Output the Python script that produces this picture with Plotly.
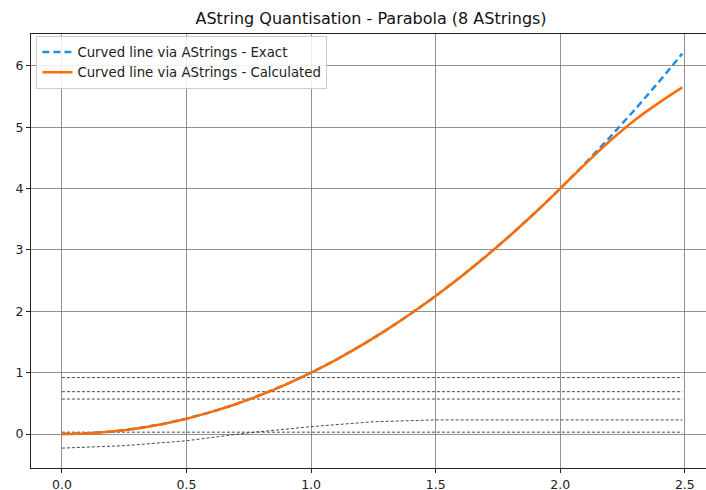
import plotly.graph_objects as go

# ---- data ----
x_vals = [0.0, 0.1, 0.2, 0.3, 0.4, 0.5, 0.6, 0.7, 0.8, 0.9, 1.0, 1.1, 1.2, 1.3, 1.4,
          1.5, 1.6, 1.7, 1.8, 1.9, 2.0, 2.1, 2.2, 2.3, 2.4, 2.49]
exact_vals = [0.0, 0.01, 0.04, 0.09, 0.16, 0.25, 0.36, 0.49, 0.64, 0.81, 1.0, 1.21, 1.44, 1.69, 1.96,
              2.25, 2.56, 2.89, 3.24, 3.61, 4.0, 4.41, 4.84, 5.29, 5.76, 6.20]
calc_vals = [0.0, 0.01, 0.04, 0.09, 0.16, 0.25, 0.36, 0.49, 0.64, 0.81, 1.0, 1.21, 1.44, 1.69, 1.96,
             2.25, 2.56, 2.89, 3.24, 3.61, 4.0, 4.40, 4.78, 5.12, 5.41, 5.65]

string_x = [0.0, 0.25, 0.5, 0.75, 1.0, 1.25, 1.5, 1.75, 2.0, 2.25, 2.49]
string_a = [0.92] * 11
string_b = [0.69] * 11
string_c = [0.57] * 11
string_d = [-0.23, -0.19, -0.11, 0.02, 0.12, 0.20, 0.23, 0.23, 0.23, 0.23, 0.23]
string_e = [0.03] * 11

x_ticks = [0.0, 0.5, 1.0, 1.5, 2.0, 2.5]
x_tick_labels = ["0.0", "0.5", "1.0", "1.5", "2.0", "2.5"]
y_ticks = [0, 1, 2, 3, 4, 5, 6]

title = "AString Quantisation - Parabola (8 AStrings)"

fig = go.Figure()

gray = "rgba(45,45,45,0.85)"
for ys in [string_a, string_b, string_c, string_d, string_e]:
    fig.add_trace(go.Scatter(x=string_x, y=ys, mode="lines",
                             line=dict(color=gray, width=1, dash="3px,2px"),
                             showlegend=False, hoverinfo="skip"))

fig.add_trace(go.Scatter(x=x_vals, y=exact_vals, mode="lines",
                         name="Curved line via AStrings - Exact",
                         line=dict(color="#1e8fe8", width=2.5, dash="7px,4px")))
fig.add_trace(go.Scatter(x=x_vals, y=calc_vals, mode="lines",
                         name="Curved line via AStrings - Calculated",
                         line=dict(color="#ff6c00", width=2.5, shape="spline")))

fig.update_layout(
    width=706, height=490,
    margin=dict(l=31, r=0, t=34, b=22),
    plot_bgcolor="white", paper_bgcolor="white",
    font=dict(family="DejaVu Sans", size=12.5, color="#222"),
    title=dict(text=title, x=0.5256, xanchor="center", y=0.962, yanchor="middle",
               font=dict(size=16, color="#111")),
    legend=dict(x=0.008, y=0.996, xanchor="left", yanchor="top",
                bgcolor="rgba(255,255,255,0.85)", bordercolor="#ccc", borderwidth=1,
                font=dict(size=13.3), tracegroupgap=0),
)
fig.update_xaxes(range=[-0.124, 2.585], tickvals=x_ticks, ticktext=x_tick_labels,
                 showgrid=True, gridcolor="rgba(110,110,110,0.75)", gridwidth=1,
                 zeroline=False, showline=True, linecolor="#222", linewidth=1.2,
                 mirror=True, ticks="outside", ticklen=4, tickcolor="#222",
                 ticklabelstandoff=1, automargin=False)
fig.update_yaxes(range=[-0.554, 6.52], tickvals=y_ticks,
                 showgrid=True, gridcolor="rgba(110,110,110,0.75)", gridwidth=1,
                 zeroline=False, showline=True, linecolor="#222", linewidth=1.2,
                 ticks="outside", ticklen=4, tickcolor="#222", automargin=False)

fig.write_html("out.html", config={"displayModeBar": False},
               post_script="document.body.style.margin='0';")
